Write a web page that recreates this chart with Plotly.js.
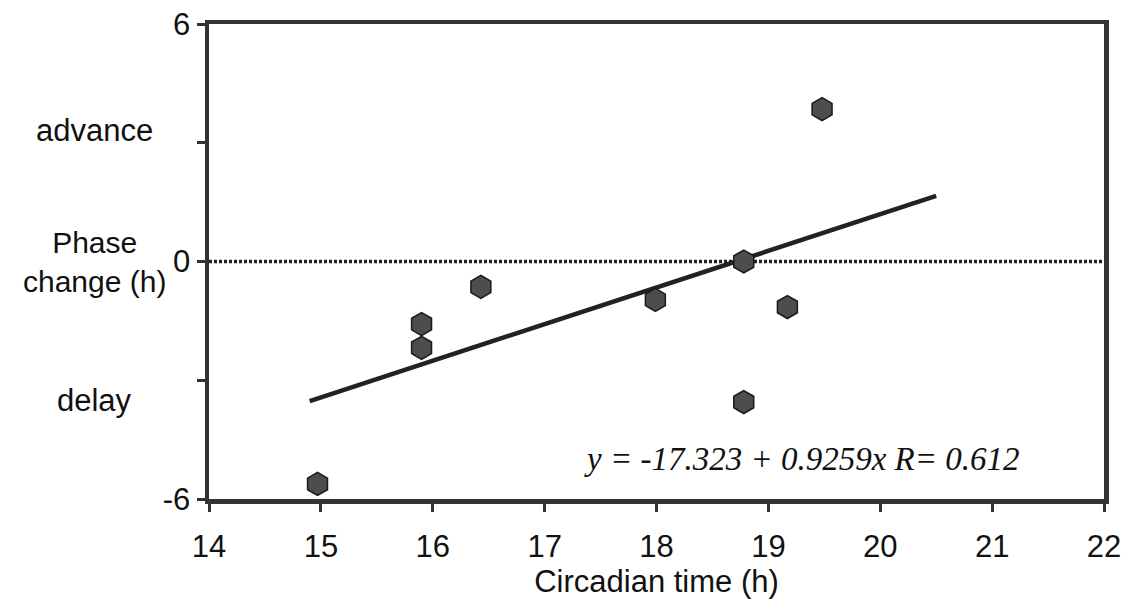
<!DOCTYPE html>
<html>
<head>
<meta charset="utf-8">
<script src="https://cdn.plot.ly/plotly-3.0.1.min.js"></script>
<style>html,body{margin:0;padding:0;background:#fff;}#chart{width:1138px;height:605px;}</style>
</head>
<body>
<div id="chart"></div>
<script>
const circadianTime = [14.97, 15.9, 15.9, 16.43, 17.99, 18.78, 18.78, 19.17, 19.48];
const phaseChange = [-5.62, -1.58, -2.18, -0.64, -0.97, 0.0, -3.55, -1.15, 3.85];
const fitX = [14.9, 20.5];
const intercept = -17.323;
const slope = 0.9259;
const fitY = fitX.map(x => intercept + slope * x);
const xTickVals = [14, 15, 16, 17, 18, 19, 20, 21, 22];
const yTickVals = [-6, -3, 0, 3, 6];
const yTickText = ['-6', '', '0', '', '6'];

const font = 'Liberation Sans, Arial, Helvetica, sans-serif';
const fs = 31;

const traces = [
  {
    x: [14, 22], y: [0, 0], mode: 'lines', type: 'scatter',
    line: {color: '#222', width: 3.5, dash: '3px,2px'}, hoverinfo: 'skip', showlegend: false
  },
  {
    x: fitX, y: fitY, mode: 'lines', type: 'scatter',
    line: {color: '#222', width: 4.5}, showlegend: false
  },
  {
    x: circadianTime, y: phaseChange, mode: 'markers', type: 'scatter',
    marker: {symbol: 'hexagon', size: 23, color: '#4d4d4d', line: {color: '#1a1a1a', width: 1.5}},
    showlegend: false
  }
];

const layout = {
  width: 1138, height: 605,
  margin: {l: 209, r: 34, t: 24, b: 106},
  paper_bgcolor: '#fff', plot_bgcolor: '#fff',
  showlegend: false,
  xaxis: {
    range: [14, 22], tickvals: xTickVals, ticks: 'outside', ticklen: 8, tickwidth: 3, tickcolor: '#333',
    showline: true, linecolor: '#333', linewidth: 4.5, mirror: true, showgrid: false, zeroline: false,
    ticklabelstandoff: 8,
    tickfont: {family: font, size: fs, color: '#111'},
    title: {text: 'Circadian time (h)', font: {family: font, size: fs, color: '#111'}, standoff: 8}
  },
  yaxis: {
    range: [-6, 6], tickvals: yTickVals, ticktext: yTickText, ticks: 'outside', ticklen: 8, tickwidth: 3, tickcolor: '#333',
    showline: true, linecolor: '#333', linewidth: 4.5, mirror: true, showgrid: false, zeroline: false,
    tickfont: {family: font, size: fs, color: '#111'}
  },
  annotations: [
    {xref: 'paper', yref: 'y', x: -0.128, y: 0, xanchor: 'center', yanchor: 'middle', showarrow: false,
     text: 'Phase<br>change (h)', font: {family: font, size: 30, color: '#111'}},
    {xref: 'paper', yref: 'y', x: -0.128, y: 3.3, xanchor: 'center', yanchor: 'middle', showarrow: false,
     text: 'advance', font: {family: font, size: fs, color: '#111'}},
    {xref: 'paper', yref: 'y', x: -0.128, y: -3.5, xanchor: 'center', yanchor: 'middle', showarrow: false,
     text: 'delay', font: {family: font, size: fs, color: '#111'}},
    {xref: 'x', yref: 'y', x: 21.27, y: -5.0, xanchor: 'right', yanchor: 'middle', showarrow: false,
     text: 'y = -17.323 + 0.9259x R= 0.612', font: {family: 'Liberation Serif, DejaVu Serif, serif', size: 33, color: '#111', style: 'italic'}}
  ]
};

Plotly.newPlot('chart', traces, layout, {displayModeBar: false, staticPlot: true});
</script>
</body>
</html>
